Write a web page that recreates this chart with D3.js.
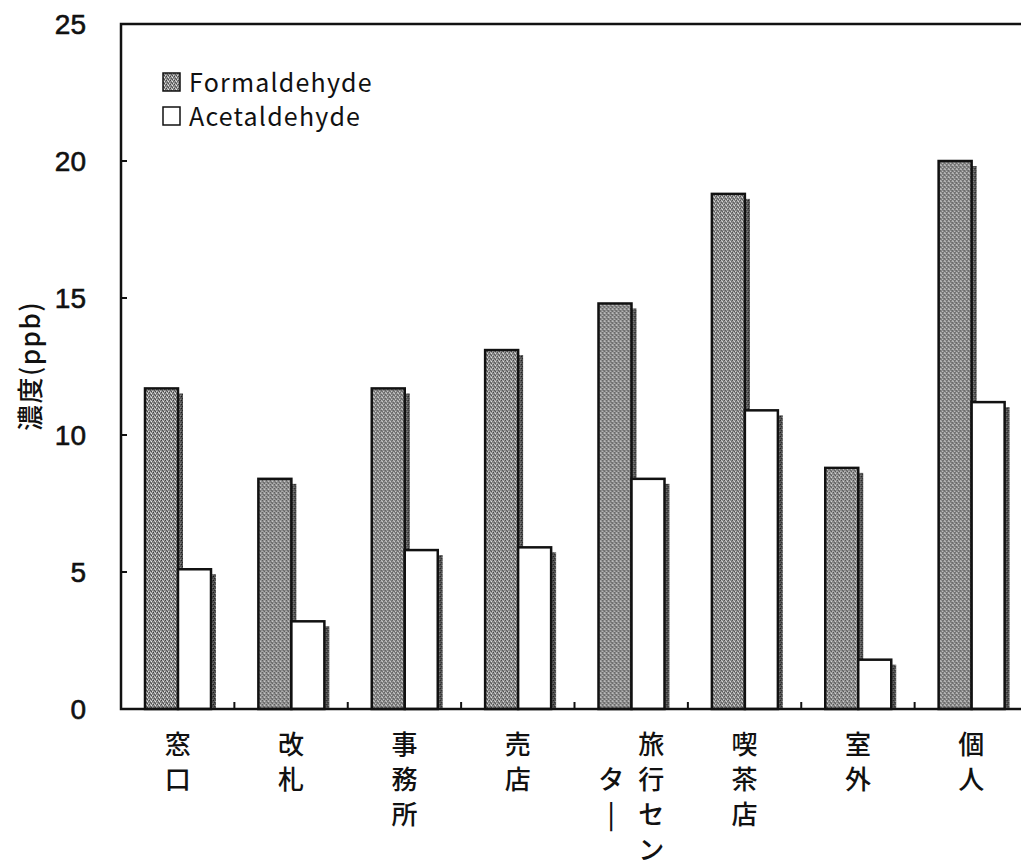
<!DOCTYPE html>
<html>
<head>
<meta charset="utf-8">
<script src="https://cdn.jsdelivr.net/npm/d3@7"></script>
<style>
  body { margin: 0; background: #fff; }
  svg { display: block; }
</style>
</head>
<body>
<div id="chart"></div>
<script>
// data
var categories = ["窓口", "改札", "事務所", "売店", "旅行センター", "喫茶店", "室外", "個人"];
var formaldehyde = [11.7, 8.4, 11.7, 13.1, 14.8, 18.8, 8.8, 20.0];
var acetaldehyde = [5.1, 3.2, 5.8, 5.9, 8.4, 10.9, 1.8, 11.2];
var seriesNames = ["Formaldehyde", "Acetaldehyde"];
var yTicks = [0, 5, 10, 15, 20, 25];

var W = 1021, H = 868;
var margin = {top: 24, right: -7, bottom: 159, left: 121},
    width = W - margin.left - margin.right,
    height = H - margin.top - margin.bottom;

var svg = d3.select("#chart").append("svg")
    .attr("width", W)
    .attr("height", H);

// stipple patterns for the bars
var defs = svg.append("defs");
function stipple(id, bg, dots) {
  var p = defs.append("pattern")
      .attr("id", id)
      .attr("patternUnits", "userSpaceOnUse")
      .attr("width", 4).attr("height", 4);
  p.append("rect").attr("width", 4).attr("height", 4).attr("fill", bg);
  dots.forEach(function(d) {
    p.append("rect").attr("x", d[0]).attr("y", d[1]).attr("width", 1).attr("height", 1).attr("fill", d[2]);
  });
}
stipple("grayfill", "#8e8e8e", [[0,0,"#444"],[2,1,"#e8e8e8"],[1,2,"#555"],[3,3,"#d8d8d8"],[3,1,"#666"],[1,0,"#c8c8c8"],[2,3,"#4a4a4a"]]);
stipple("shadefill", "#555", [[0,0,"#1a1a1a"],[2,1,"#999"],[1,2,"#2a2a2a"],[3,3,"#888"]]);

var g = svg.append("g")
    .attr("transform", "translate(" + margin.left + "," + margin.top + ")");

var x0 = d3.scaleBand().domain(categories).range([0, width]).paddingInner(0).paddingOuter(0);
var x1 = d3.scaleBand().domain(seriesNames).range([24, 24 + 66]);
var y = d3.scaleLinear().domain([0, 25]).range([height, 0]);

var rows = categories.map(function(c, i) {
  return {cat: c, vals: [
    {key: seriesNames[0], v: formaldehyde[i]},
    {key: seriesNames[1], v: acetaldehyde[i]}
  ]};
});

var groups = g.selectAll(".grp")
    .data(rows)
    .enter().append("g")
    .attr("class", "grp")
    .attr("transform", function(d) { return "translate(" + x0(d.cat) + ",0)"; });

// shadows
groups.selectAll(".shadow")
    .data(function(d) { return d.vals; })
    .enter().append("rect")
    .attr("x", function(d) { return x1(d.key) + x1.bandwidth(); })
    .attr("y", function(d) { return y(d.v) + 5; })
    .attr("width", 5)
    .attr("height", function(d) { return height - y(d.v) - 5; })
    .style("fill", "url(#shadefill)");

// bars
groups.selectAll(".bar")
    .data(function(d) { return d.vals; })
    .enter().append("rect")
    .attr("x", function(d) { return x1(d.key); })
    .attr("y", function(d) { return y(d.v); })
    .attr("width", x1.bandwidth())
    .attr("height", function(d) { return height - y(d.v); })
    .style("fill", function(d, i) { return i == 0 ? "url(#grayfill)" : "#fff"; })
    .style("stroke", "#111")
    .style("stroke-width", 2.5);

// frame
g.append("rect")
    .attr("x", 0).attr("y", 0)
    .attr("width", width).attr("height", height)
    .style("fill", "none")
    .style("stroke", "#111")
    .style("stroke-width", 2.5);

// y ticks (inside) + labels
g.selectAll(".ytick")
    .data(yTicks.slice(1, -1))
    .enter().append("line")
    .attr("x1", 0).attr("x2", 6)
    .attr("y1", function(d) { return y(d); })
    .attr("y2", function(d) { return y(d); })
    .style("stroke", "#111").style("stroke-width", 2);

g.selectAll(".ylab")
    .data(yTicks)
    .enter().append("text")
    .attr("x", -35)
    .attr("y", function(d) { return y(d) + 10; })
    .attr("text-anchor", "end")
    .style("font-family", "'Liberation Sans', Arial, sans-serif")
    .style("font-size", "28px")
    .style("fill", "#111")
    .style("stroke", "#111").style("stroke-width", 0.6)
    .text(function(d) { return d; });

// x ticks between categories (inside)
g.selectAll(".xtick")
    .data(categories.slice(1))
    .enter().append("line")
    .attr("x1", function(d) { return x0(d); })
    .attr("x2", function(d) { return x0(d); })
    .attr("y1", height).attr("y2", height - 7)
    .style("stroke", "#111").style("stroke-width", 2);

// vertical category labels (wrap after 4 chars into a left column)
var lineH = 35;
groups.each(function(d) {
  var chars = Array.from(d.cat);
  var cx = x0.bandwidth() / 2;
  var col1 = chars.slice(0, 4), col2 = chars.slice(4);
  var sel = d3.select(this);
  var off = col2.length ? 20 : 0;
  function put(ch, xx, yy) {
    sel.append("text")
      .attr("x", xx)
      .attr("y", yy)
      .attr("text-anchor", "middle")
      .style("font-family", "'Noto Sans CJK JP', sans-serif")
      .style("font-size", "26px")
      .style("font-weight", 500)
      .style("fill", "#111")
      .text(ch);
  }
  col1.forEach(function(ch, k) { put(ch, cx + off, height + 45 + k * lineH); });
  col2.forEach(function(ch, k) { put(ch == "ー" ? "|" : ch, cx - off, height + 45 + (k + 1) * lineH); });
});

// y axis title
svg.append("text")
    .attr("transform", "translate(40,366) rotate(-90)")
    .attr("text-anchor", "middle")
    .style("font-family", "'Noto Sans CJK JP', sans-serif")
    .style("font-size", "26px")
    .style("font-weight", 500)
    .style("letter-spacing", "1.5px")
    .style("fill", "#111")
    .text("濃度(ppb)");

// legend
var legend = svg.append("g").attr("transform", "translate(162,72)");
seriesNames.forEach(function(name, i) {
  legend.append("rect")
    .attr("x", 1).attr("y", i * 34 + 1)
    .attr("width", 17).attr("height", 18)
    .style("fill", i == 0 ? "url(#grayfill)" : "#fff")
    .style("stroke", "#111").style("stroke-width", 1.5);
  legend.append("text")
    .attr("x", 27).attr("y", i * 34 + 20)
    .style("font-family", "'Noto Sans CJK JP', sans-serif")
    .style("font-size", "25px")
    .style("letter-spacing", "1.2px")
    .style("fill", "#111")
    .text(name);
});
</script>
</body>
</html>
